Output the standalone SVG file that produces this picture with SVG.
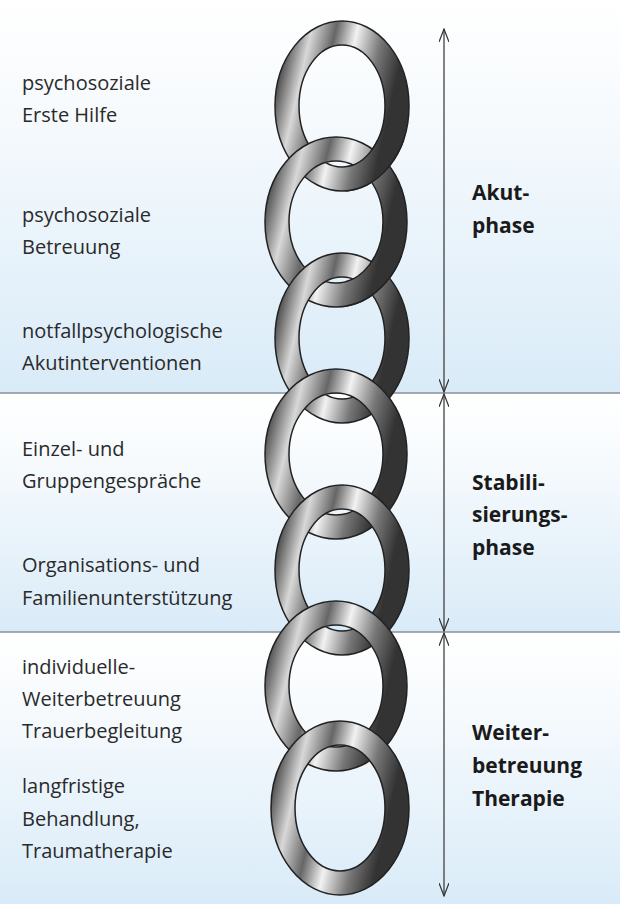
<svg xmlns="http://www.w3.org/2000/svg" width="620" height="904" viewBox="0 0 620 904">
<style>
.l{font-family:"Open Sans","Noto Sans",sans-serif;font-size:20px;fill:#2a2a2a}
.r{font-family:"Open Sans","Noto Sans",sans-serif;font-size:21px;font-weight:bold;fill:#1a1a1a}
.ring{fill:none;stroke:url(#metal);stroke-width:24}
.edge{fill:none;stroke:#222;stroke-width:1.5}
.ax{stroke:#333;stroke-width:1.2;fill:none}
</style>
<defs>
<linearGradient id="bg" x1="0" y1="0" x2="0" y2="1"><stop offset="0" stop-color="#ffffff"/><stop offset="0.3" stop-color="#f6fafd"/><stop offset="1" stop-color="#d9ebf8"/></linearGradient>
<linearGradient id="metal" x1="0" y1="0" x2="1" y2="0.3"><stop offset="0" stop-color="#444"/><stop offset="0.2" stop-color="#d8d8d8"/><stop offset="0.4" stop-color="#666"/><stop offset="0.58" stop-color="#f2f2f2"/><stop offset="0.8" stop-color="#777"/><stop offset="1" stop-color="#333"/></linearGradient>
<marker id="v" markerWidth="14" markerHeight="10" refX="13" refY="5" orient="auto" markerUnits="userSpaceOnUse"><path d="M0,0 L13,5 L0,10" fill="none" stroke="#333" stroke-width="1.2"/></marker>
<clipPath id="c1"><rect x="345" y="140" width="100" height="60"/></clipPath>
<clipPath id="c2"><rect x="345" y="256" width="100" height="60"/></clipPath>
<clipPath id="c3"><rect x="345" y="372" width="100" height="60"/></clipPath>
<clipPath id="c4"><rect x="345" y="488" width="100" height="60"/></clipPath>
<clipPath id="c5"><rect x="345" y="604" width="100" height="60"/></clipPath>
<clipPath id="c6"><rect x="345" y="720" width="100" height="60"/></clipPath>
<g id="r1"><ellipse cx="342" cy="106" rx="55" ry="73" class="ring"/><ellipse cx="342" cy="106" rx="67" ry="85" class="edge"/><ellipse cx="342" cy="106" rx="43" ry="61" class="edge"/></g>
<g id="r2"><ellipse cx="336" cy="222" rx="59" ry="73" class="ring"/><ellipse cx="336" cy="222" rx="71" ry="85" class="edge"/><ellipse cx="336" cy="222" rx="47" ry="61" class="edge"/></g>
</defs>
<rect x="0" y="0" width="620" height="393" fill="url(#bg)"/>
<rect x="0" y="393" width="620" height="239" fill="url(#bg)"/>
<rect x="0" y="632" width="620" height="272" fill="url(#bg)"/>
<line x1="0" y1="393" x2="620" y2="393" stroke="#8a9097" stroke-width="1.5"/>
<line x1="0" y1="632" x2="620" y2="632" stroke="#8a9097" stroke-width="1.5"/>
<g id="chain">
<use id="ring1" href="#r1"/>
<use id="ring2" href="#r2"/>
<use href="#r1" clip-path="url(#c1)"/>
<use id="ring3" href="#r1" y="232"/>
<use href="#r2" clip-path="url(#c2)"/>
<use id="ring4" href="#r2" y="232"/>
<use href="#r1" y="232" clip-path="url(#c3)"/>
<use id="ring5" href="#r1" y="464"/>
<use href="#r2" y="232" clip-path="url(#c4)"/>
<use id="ring6" href="#r2" y="464"/>
<use href="#r1" y="464" clip-path="url(#c5)"/>
<g id="ring7"><ellipse cx="340" cy="808" rx="57" ry="75" class="ring"/><ellipse cx="340" cy="808" rx="69" ry="87" class="edge"/><ellipse cx="340" cy="808" rx="45" ry="63" class="edge"/></g>
<use href="#r2" y="464" clip-path="url(#c6)"/>
</g>
<g id="connectors">
<line x1="444" y1="210" x2="444" y2="29" class="ax" marker-end="url(#v)"/>
<line x1="444" y1="210" x2="444" y2="392" class="ax" marker-end="url(#v)"/>
<line x1="444" y1="510" x2="444" y2="394" class="ax" marker-end="url(#v)"/>
<line x1="444" y1="510" x2="444" y2="631" class="ax" marker-end="url(#v)"/>
<line x1="444" y1="760" x2="444" y2="633" class="ax" marker-end="url(#v)"/>
<line x1="444" y1="760" x2="444" y2="896" class="ax" marker-end="url(#v)"/>
</g>
<g id="labels-left">
<text class="l" x="22" y="90">psychosoziale</text><text class="l" x="22" y="122">Erste Hilfe</text>
<text class="l" x="22" y="222">psychosoziale</text><text class="l" x="22" y="254">Betreuung</text>
<text class="l" x="22" y="338">notfallpsychologische</text><text class="l" x="22" y="370">Akutinterventionen</text>
<text class="l" x="22" y="456">Einzel- und</text><text class="l" x="22" y="488">Gruppengespräche</text>
<text class="l" x="22" y="572">Organisations- und</text><text class="l" x="22" y="605">Familienunterstützung</text>
<text class="l" x="22" y="674">individuelle-</text><text class="l" x="22" y="706">Weiterbetreuung</text><text class="l" x="22" y="738">Trauerbegleitung</text>
<text class="l" x="22" y="793">langfristige</text><text class="l" x="22" y="826">Behandlung,</text><text class="l" x="22" y="858">Traumatherapie</text>
</g>
<g id="labels-right">
<text class="r" x="472" y="200">Akut-</text><text class="r" x="472" y="233">phase</text>
<text class="r" x="472" y="490">Stabili-</text><text class="r" x="472" y="522">sierungs-</text><text class="r" x="472" y="555">phase</text>
<text class="r" x="472" y="740">Weiter-</text><text class="r" x="472" y="773">betreuung</text><text class="r" x="472" y="806">Therapie</text>
</g>
</svg>
